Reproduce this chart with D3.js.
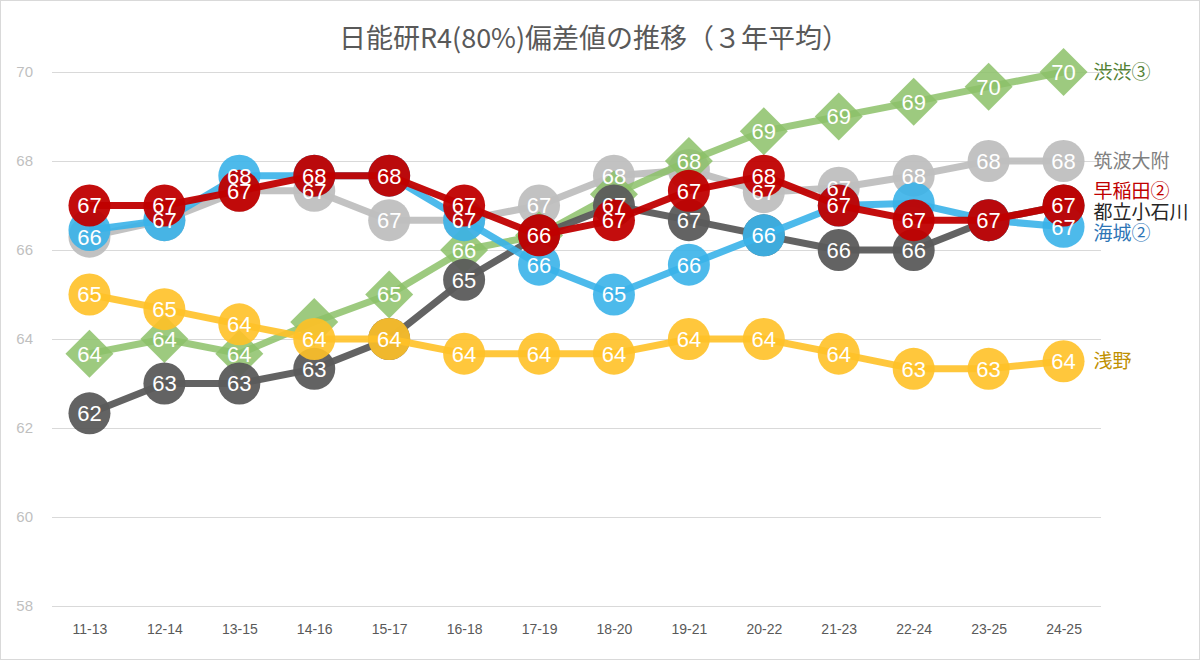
<!DOCTYPE html>
<html>
<head>
<meta charset="utf-8">
<script src="https://cdn.jsdelivr.net/npm/d3@7"></script>
<style>
  body { margin: 0; background: #fff; }
  svg { display: block; }
</style>
</head>
<body>
<svg id="chart" width="1200" height="661"></svg>
<script>
// periods (3-year windows)
const periods = ["11-13", "12-14", "13-15", "14-16", "15-17", "16-18", "17-19",
  "18-20", "19-21", "20-22", "21-23", "22-24", "23-25", "24-25"];

// 3-year average deviation values
const tsukuba    = [66.3, 66.67, 67.33, 67.33, 66.67, 66.67, 67.0, 67.67, 67.8, 67.3, 67.4, 67.67, 68.0, 68.0];
const shibushibu = [63.67, 64.0, 63.67, 64.38, 65.0, 66.0, 66.33, 67.25, 68.0, 68.67, 69.0, 69.33, 69.67, 70.0];
const koishikawa = [62.33, 63.0, 63.0, 63.33, 64.0, 65.33, 66.33, 67.0, 66.67, 66.33, 66.0, 66.0, 66.67, 67.0];
const kaijo      = [66.45, 66.67, 67.67, 67.67, 67.67, 66.67, 65.67, 65.0, 65.67, 66.33, 67.0, 67.05, 66.67, 66.52];
const asano      = [65.0, 64.67, 64.33, 64.0, 64.0, 63.67, 63.67, 63.67, 64.0, 64.0, 63.67, 63.33, 63.33, 63.5];
const waseda     = [67.0, 67.0, 67.33, 67.67, 67.67, 67.0, 66.33, 66.67, 67.33, 67.67, 67.0, 66.67, 66.67, 67.0];

const yTicks = [58, 60, 62, 64, 66, 68, 70];

// data labels that the original chart leaves out
const hiddenLabels = {
  "筑波大附": ["19-21"],
  "渋渋③": ["14-16", "18-20"],
  "海城②": ["11-13", "22-24"]
};

// series, listed in the order of the end labels (top to bottom)
const series = [
  { name: "渋渋③",   values: shibushibu, color: "#8cc168", text: "#548235", shape: "diamond", z: 1, opacity: 0.85 },
  { name: "筑波大附", values: tsukuba,    color: "#bfbfbf", text: "#7f7f7f", shape: "circle", z: 0, opacity: 0.95 },
  { name: "早稲田②", values: waseda,     color: "#c00000", text: "#c00000", shape: "circle", z: 5, opacity: 0.95 },
  { name: "都立小石川", values: koishikawa, color: "#5b5b5b", text: "#262626", shape: "circle", z: 2, opacity: 0.95 },
  { name: "海城②",   values: kaijo,      color: "#3ab3e9", text: "#2e75b6", shape: "circle", z: 3, opacity: 0.9 },
  { name: "浅野",     values: asano,      color: "#ffc127", text: "#bf9000", shape: "circle", z: 4, opacity: 0.9 }
];

const svg = d3.select("#chart");
const W = 1200, H = 661;

// chart frame
svg.append("rect")
  .attr("x", 0.5).attr("y", 0.5)
  .attr("width", W - 1).attr("height", H - 2)
  .attr("fill", "#fff").attr("stroke", "#d9d9d9");

const x = d3.scalePoint().domain(periods).range([52, 1101]).padding(0.5);
const y = d3.scaleLinear().domain([58, 70]).range([606, 72]);

// title
svg.append("text")
  .attr("x", 594).attr("y", 48)
  .attr("text-anchor", "middle")
  .attr("font-family", "'Noto Sans CJK JP', sans-serif")
  .attr("font-size", 27)
  .attr("fill", "#595959")
  .text("日能研R4(80%)偏差値の推移（３年平均）");

// gridlines
svg.append("g")
  .attr("transform", "translate(52,0)")
  .call(d3.axisLeft(y).tickValues(yTicks).tickSize(-(1101 - 52)).tickFormat(""))
  .call(g => g.select(".domain").remove())
  .call(g => g.selectAll("line").attr("stroke", "#d9d9d9"));

// y labels
svg.append("g")
  .attr("transform", "translate(52,0)")
  .call(d3.axisLeft(y).tickValues(yTicks).tickSize(0).tickPadding(19))
  .call(g => g.select(".domain").remove())
  .call(g => g.selectAll("text")
    .attr("font-family", "'Liberation Sans', Arial, sans-serif")
    .attr("font-size", 15)
    .attr("fill", "#bfbfbf"));

// x labels
svg.append("g")
  .attr("transform", "translate(0,606)")
  .call(d3.axisBottom(x).tickSize(0).tickPadding(18))
  .call(g => g.select(".domain").remove())
  .call(g => g.selectAll("text")
    .attr("font-family", "'Liberation Sans', Arial, sans-serif")
    .attr("font-size", 14)
    .attr("fill", "#595959"));

const line = d3.line()
  .x((d, i) => x(periods[i]))
  .y(d => y(d));

const drawn = series.slice().sort((a, b) => a.z - b.z);

// lines and markers, series by series
drawn.forEach(s => {
  const g = svg.append("g");
  g.append("path")
    .attr("d", line(s.values))
    .attr("fill", "none")
    .attr("stroke", s.color)
    .attr("stroke-width", 7)
    .attr("stroke-opacity", s.opacity)
    .attr("stroke-linejoin", "round");

  if (s.shape === "diamond") {
    g.selectAll("path.m")
      .data(s.values)
      .join("path")
      .attr("class", "m")
      .attr("d", d3.symbol(d3.symbolSquare, 24 * 24 * 2))
      .attr("transform", (d, i) => `translate(${x(periods[i])},${y(d)}) rotate(45)`)
      .attr("fill", s.color)
      .attr("fill-opacity", s.opacity);
  } else {
    g.selectAll("circle")
      .data(s.values)
      .join("circle")
      .attr("cx", (d, i) => x(periods[i]))
      .attr("cy", d => y(d))
      .attr("r", 21)
      .attr("fill", s.color)
      .attr("fill-opacity", s.opacity);
  }
});

// value labels on top of everything; identical labels on one spot drawn once
const labels = [];
drawn.forEach(s => {
  const skip = hiddenLabels[s.name] || [];
  s.values.forEach((v, i) => {
    if (skip.includes(periods[i])) return;
    const d = { x: x(periods[i]), y: y(v), t: Math.round(v) };
    const twin = labels.find(o => o.x === d.x && o.t === d.t && Math.abs(o.y - d.y) < 3);
    if (twin) twin.y = d.y; else labels.push(d);
  });
});
svg.append("g")
  .selectAll("text")
  .data(labels)
  .join("text")
  .attr("x", d => d.x)
  .attr("y", d => d.y)
  .attr("dy", "0.36em")
  .attr("text-anchor", "middle")
  .attr("font-family", "'Liberation Sans', Arial, sans-serif")
  .attr("font-size", 22)
  .attr("fill", "#fff")
  .text(d => d.t);

// end labels, pushed apart where they collide
const gap = 21;
let blocks = series.map(s => ({ items: [s], target: y(s.values[s.values.length - 1]) }))
  .sort((a, b) => a.target - b.target)
  .map(b => ({ items: b.items, sum: b.target, top: b.target }));
let merged = true;
while (merged) {
  merged = false;
  for (let i = 0; i < blocks.length - 1; i++) {
    const a = blocks[i], b = blocks[i + 1];
    if (a.top + a.items.length * gap > b.top + 0.01) {
      const items = a.items.concat(b.items);
      const sum = a.sum + b.sum;
      const top = sum / items.length - (items.length - 1) * gap / 2;
      blocks.splice(i, 2, { items, sum, top });
      merged = true;
      break;
    }
  }
}
const lastX = x(periods[periods.length - 1]);
blocks.forEach(b => b.items.forEach((s, k) => {
  svg.append("text")
    .attr("x", lastX + 30)
    .attr("y", b.top + k * gap)
    .attr("dy", "0.36em")
    .attr("font-family", "'Noto Sans CJK JP', sans-serif")
    .attr("font-size", 19)
    .attr("fill", s.text)
    .text(s.name);
}));
</script>
</body>
</html>
